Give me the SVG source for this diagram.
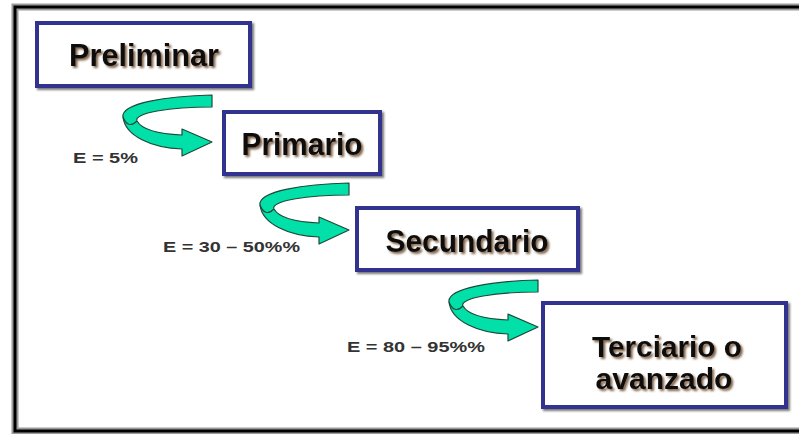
<svg xmlns="http://www.w3.org/2000/svg" width="799" height="434" viewBox="0 0 799 434">
<defs>
<filter id="tsh" x="-10%" y="-20%" width="130%" height="150%">
<feDropShadow dx="2" dy="2" stdDeviation="0.8" flood-color="#6b4a2a" flood-opacity="0.85"/>
</filter>
<filter id="bsh" x="-5%" y="-5%" width="115%" height="120%">
<feDropShadow dx="2" dy="2" stdDeviation="1" flood-color="#222" flood-opacity="0.6"/>
</filter>
<style>
.box{fill:#fff;stroke:#33338f;stroke-width:4;filter:url(#bsh)}
.t{font-family:"Liberation Sans",Arial,sans-serif;font-weight:bold;font-size:31px;fill:#111;text-anchor:middle;filter:url(#tsh)}
.t2{font-size:29px}
.lbl{font-family:"Liberation Sans",Arial,sans-serif;font-weight:bold;font-size:15px;fill:#333}
.arr{fill:#00e0a8;stroke:#1f4a3a;stroke-width:1.2;stroke-linejoin:round}
.arrin{fill:none;stroke:#1f4a3a;stroke-width:1.2}
</style>
<g id="curl">
<path class="arr" d="M212,95 C168,96 121,103 123,117 C125,136 152,148 182,149 L182,156 L212,142 L182,129 L182,135 C160,134 142,130 137,121 C133,113 170,107 212,107 Z"/>
<path class="arrin" d="M123,117 C126,125 131,127 137,121"/>
</g>
</defs>
<g id="frame">
<path d="M799,7 L15,7 L15,431 L799,431" fill="none" stroke="#9a9a9a" stroke-width="7"/>
<path d="M799,7 L15,7 L15,431 L799,431" fill="none" stroke="#000" stroke-width="3"/>
</g>
<g id="connectors">
<use id="arrow1" href="#curl"/>
<use id="arrow2" href="#curl" transform="translate(137,88)"/>
<use id="arrow3" href="#curl" transform="translate(326,185)"/>
</g>
<g id="node-preliminar">
<rect class="box" x="37" y="23" width="213" height="63"/>
<text class="t" x="144" y="66" textLength="150" lengthAdjust="spacingAndGlyphs">Preliminar</text>
</g>
<g id="node-primario">
<rect class="box" x="224" y="112" width="156" height="62"/>
<text class="t" x="302" y="155" textLength="121" lengthAdjust="spacingAndGlyphs">Primario</text>
</g>
<g id="node-secundario">
<rect class="box" x="357" y="208" width="221" height="62"/>
<text class="t" x="467" y="252" textLength="163" lengthAdjust="spacingAndGlyphs">Secundario</text>
</g>
<g id="node-terciario">
<rect class="box" x="543" y="303" width="243" height="104"/>
<text class="t t2" x="667" y="357" textLength="150" lengthAdjust="spacingAndGlyphs">Terciario o</text>
<text class="t t2" x="664" y="389" textLength="137" lengthAdjust="spacingAndGlyphs">avanzado</text>
</g>
<g id="labels">
<text class="lbl" x="73" y="163" textLength="65" lengthAdjust="spacingAndGlyphs">E = 5%</text>
<text class="lbl" x="163" y="252" textLength="137" lengthAdjust="spacingAndGlyphs">E = 30 – 50%%</text>
<text class="lbl" x="347" y="352" textLength="138" lengthAdjust="spacingAndGlyphs">E = 80 – 95%%</text>
</g>
</svg>
